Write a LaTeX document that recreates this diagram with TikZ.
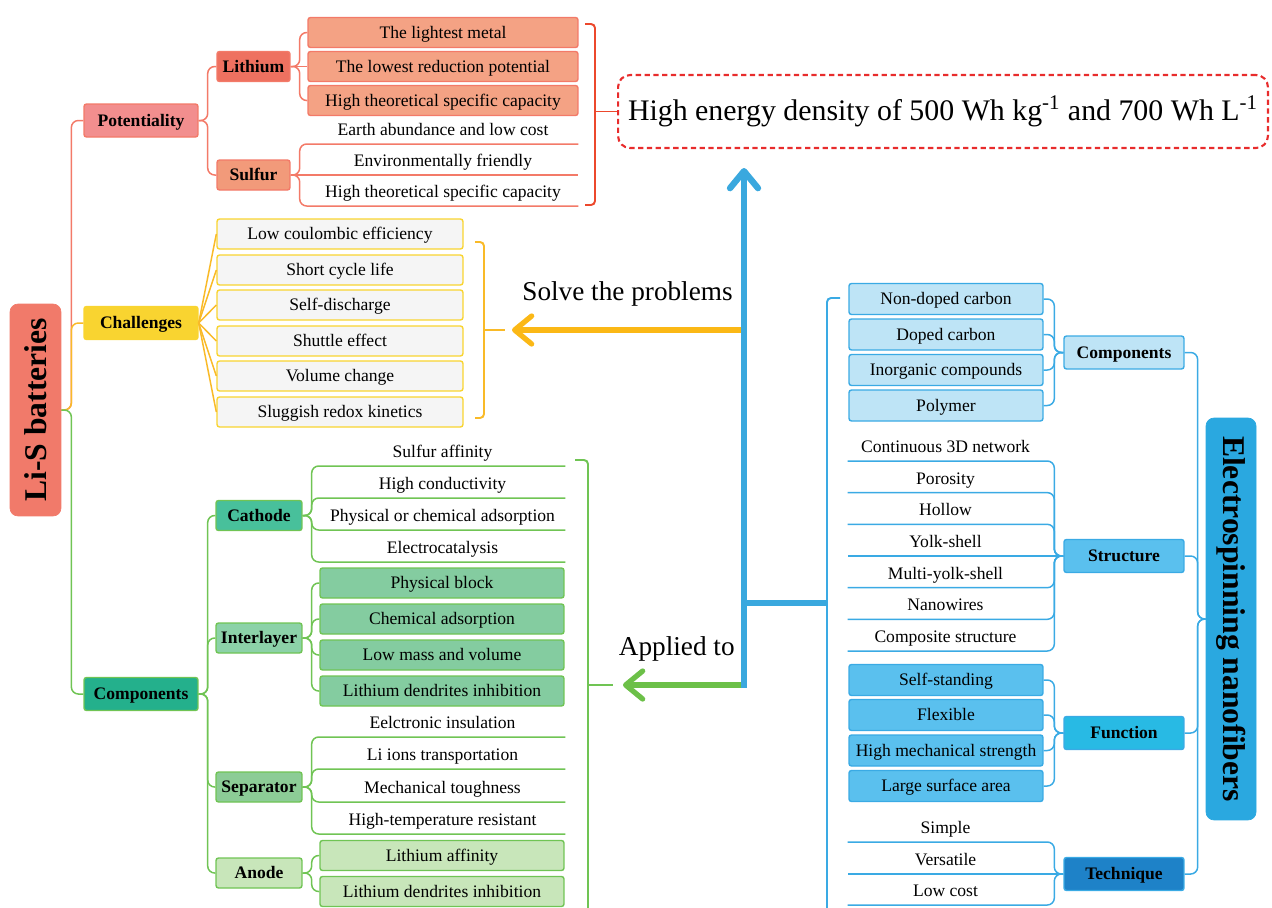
\documentclass[tikz,border=0pt]{standalone}
\usepackage{fontspec}
\setmainfont{Liberation Serif}
\usetikzlibrary{positioning, calc, arrows.meta}

% red branch
\definecolor{lisc}{RGB}{241,122,106}
\definecolor{potc}{RGB}{242,142,142}
\definecolor{lithc}{RGB}{238,113,96}
\definecolor{sulfc}{RGB}{242,154,122}
\definecolor{lileaf}{RGB}{244,162,132}
\definecolor{redln}{RGB}{243,122,104}
\definecolor{redbr}{RGB}{236,72,44}
\definecolor{reddash}{RGB}{232,44,44}
% yellow branch
\definecolor{chac}{RGB}{249,212,48}
\definecolor{yelln}{RGB}{249,186,40}
\definecolor{chaleaf}{RGB}{245,245,245}
\definecolor{orarr}{RGB}{251,184,22}
% green branch
\definecolor{compc}{RGB}{36,176,140}
\definecolor{cathc}{RGB}{72,192,155}
\definecolor{intc}{RGB}{140,210,168}
\definecolor{sepc}{RGB}{140,204,150}
\definecolor{anoc}{RGB}{200,230,186}
\definecolor{intleaf}{RGB}{132,204,160}
\definecolor{grnln}{RGB}{112,196,84}
\definecolor{grnarr}{RGB}{108,192,72}
% blue side
\definecolor{esnc}{RGB}{42,168,224}
\definecolor{rcompc}{RGB}{190,228,246}
\definecolor{struc}{RGB}{90,192,238}
\definecolor{funcc}{RGB}{40,186,228}
\definecolor{techc}{RGB}{30,130,200}
\definecolor{bluln}{RGB}{58,170,228}
\definecolor{bluarr}{RGB}{58,168,222}

\begin{document}
\begin{tikzpicture}[
    x=0.02cm, y=-0.02cm,
    font=\fontsize{10}{12}\selectfont,
    root/.style={
      draw=#1, fill=#1, rounded corners=0.16cm, inner sep=0pt,
      font=\fontsize{18}{20}\selectfont\bfseries
    },
    topic/.style={
      draw, rounded corners=0.05cm, line width=0.8pt, inner sep=0pt,
      minimum width=2.28cm, minimum height=0.66cm, text height=0.9em, text depth=0.24em,
      font=\fontsize{10}{12}\selectfont\bfseries
    },
    sub/.style={topic, minimum width=1.72cm, minimum height=0.6cm},
    leaf/.style={
      draw, rounded corners=0.05cm, line width=0.8pt, inner sep=0pt,
      minimum height=0.6cm, text height=0.9em, text depth=0.24em
    },
    item/.style={inner sep=0pt, minimum height=0.56cm, text height=0.9em, text depth=0.24em, anchor=south},
    lnk/.style={line width=0.85pt, rounded corners=0.14cm},
    brace/.style={line width=1.1pt, rounded corners=0.08cm},
    flow/.style={-{Straight Barb[round, length=0.34cm, width=0.56cm]}},
    arrtext/.style={inner sep=0pt, font=\fontsize{15.5}{18}\selectfont},
  ]
  \useasboundingbox (0,0) rectangle (1272,907);

  % Li-S batteries with its branches
  \node [root=lisc, rotate=90, minimum width=4.24cm, minimum height=1.02cm] (lis) at (35.5,410) {Li-S batteries};
  \node [topic, draw=redln, fill=potc] (pot) at (141,120.5) {Potentiality};
  \node [topic, draw=chac, fill=chac] (cha) at (141,323) {Challenges};
  \node [topic, draw=grnln, fill=compc] (lcomp) at (141,694) {Components};

  % Potentiality
  \node [sub, minimum width=1.46cm, draw=redln, fill=lithc] (lith) at (253.5,66.5) {Lithium};
  \node [sub, minimum width=1.46cm, draw=redln, fill=sulfc] (sulf) at (253.5,175) {Sulfur};
  \node [leaf, minimum width=5.4cm, draw=redln, fill=lileaf] (li1) at (443,32.5) {The lightest metal};
  \node [leaf, minimum width=5.4cm, draw=redln, fill=lileaf] (li2) at (443,66.5) {The lowest reduction potential};
  \node [leaf, minimum width=5.4cm, draw=redln, fill=lileaf] (li3) at (443,100.5) {High theoretical specific capacity};
  \node [item, minimum width=5.4cm] (su1) at (443,144) {Earth abundance and low cost};
  \node [item, minimum width=5.4cm] (su2) at (443,175) {Environmentally friendly};
  \node [item, minimum width=5.4cm] (su3) at (443,206) {High theoretical specific capacity};

  % Challenges
  \node [leaf, minimum width=4.92cm, draw=chac, fill=chaleaf] (ch1) at (340,234) {Low coulombic efficiency};
  \node [leaf, minimum width=4.92cm, draw=chac, fill=chaleaf] (ch2) at (340,270) {Short cycle life};
  \node [leaf, minimum width=4.92cm, draw=chac, fill=chaleaf] (ch3) at (340,305) {Self-discharge};
  \node [leaf, minimum width=4.92cm, draw=chac, fill=chaleaf] (ch4) at (340,341) {Shuttle effect};
  \node [leaf, minimum width=4.92cm, draw=chac, fill=chaleaf] (ch5) at (340,376) {Volume change};
  \node [leaf, minimum width=4.92cm, draw=chac, fill=chaleaf] (ch6) at (340,412) {Sluggish redox kinetics};

  % Components of the cell
  \node [sub, draw=grnln, fill=cathc] (cath) at (259,515.5) {Cathode};
  \node [sub, draw=grnln, fill=intc] (intl) at (259,638) {Interlayer};
  \node [sub, draw=grnln, fill=sepc] (sepa) at (259,787) {Separator};
  \node [sub, draw=grnln, fill=anoc] (anod) at (259,873) {Anode};
  \node [item, minimum width=4.9cm] (ca1) at (442.5,466) {Sulfur affinity};
  \node [item, minimum width=4.9cm] (ca2) at (442.5,498) {High conductivity};
  \node [item, minimum width=4.9cm] (ca3) at (442.5,530) {Physical or chemical adsorption};
  \node [item, minimum width=4.9cm] (ca4) at (442.5,562) {Electrocatalysis};
  \node [leaf, minimum width=4.88cm, draw=grnln, fill=intleaf] (in1) at (442,583) {Physical block};
  \node [leaf, minimum width=4.88cm, draw=grnln, fill=intleaf] (in2) at (442,619) {Chemical adsorption};
  \node [leaf, minimum width=4.88cm, draw=grnln, fill=intleaf] (in3) at (442,655) {Low mass and volume};
  \node [leaf, minimum width=4.88cm, draw=grnln, fill=intleaf] (in4) at (442,691) {Lithium dendrites inhibition};
  \node [item, minimum width=4.9cm] (se1) at (442.5,737) {Eelctronic insulation};
  \node [item, minimum width=4.9cm] (se2) at (442.5,769) {Li ions transportation};
  \node [item, minimum width=4.9cm] (se3) at (442.5,802) {Mechanical toughness};
  \node [item, minimum width=4.9cm] (se4) at (442.5,834) {High-temperature resistant};
  \node [leaf, minimum width=4.88cm, draw=grnln, fill=anoc] (an1) at (442,855.5) {Lithium affinity};
  \node [leaf, minimum width=4.88cm, draw=grnln, fill=anoc] (an2) at (442,891.5) {Lithium dendrites inhibition};

  % Electrospinning nanofibers with its branches
  \node [root=esnc, rotate=-90, minimum width=8.04cm, minimum height=1.0cm] (esn) at (1231,619) {Electrospinning nanofibers};
  \node [topic, minimum width=2.4cm, draw=bluln, fill=rcompc] (rcomp) at (1124,352.5) {Components};
  \node [topic, minimum width=2.4cm, draw=bluln, fill=struc] (stru) at (1124,556) {Structure};
  \node [topic, minimum width=2.4cm, draw=bluln, fill=funcc] (func) at (1124,733) {Function};
  \node [topic, minimum width=2.4cm, draw=bluln, fill=techc] (tech) at (1124,874) {Technique};

  \node [leaf, minimum width=3.88cm, minimum height=0.62cm, draw=bluln, fill=rcompc] (rc1) at (946,299) {Non-doped carbon};
  \node [leaf, minimum width=3.88cm, minimum height=0.62cm, draw=bluln, fill=rcompc] (rc2) at (946,334.5) {Doped carbon};
  \node [leaf, minimum width=3.88cm, minimum height=0.62cm, draw=bluln, fill=rcompc] (rc3) at (946,370) {Inorganic compounds};
  \node [leaf, minimum width=3.88cm, minimum height=0.62cm, draw=bluln, fill=rcompc] (rc4) at (946,405.5) {Polymer};
  \node [item, minimum width=3.9cm] (st1) at (945.5,461) {Continuous 3D network};
  \node [item, minimum width=3.9cm] (st2) at (945.5,492.6) {Porosity};
  \node [item, minimum width=3.9cm] (st3) at (945.5,524.3) {Hollow};
  \node [item, minimum width=3.9cm] (st4) at (945.5,556) {Yolk-shell};
  \node [item, minimum width=3.9cm] (st5) at (945.5,587.7) {Multi-yolk-shell};
  \node [item, minimum width=3.9cm] (st6) at (945.5,619.3) {Nanowires};
  \node [item, minimum width=3.9cm] (st7) at (945.5,651) {Composite structure};
  \node [leaf, minimum width=3.88cm, minimum height=0.62cm, draw=bluln, fill=struc] (fu1) at (946,680) {Self-standing};
  \node [leaf, minimum width=3.88cm, minimum height=0.62cm, draw=bluln, fill=struc] (fu2) at (946,715) {Flexible};
  \node [leaf, minimum width=3.88cm, minimum height=0.62cm, draw=bluln, fill=struc] (fu3) at (946,750.5) {High mechanical strength};
  \node [leaf, minimum width=3.88cm, minimum height=0.62cm, draw=bluln, fill=struc] (fu4) at (946,786) {Large surface area};
  \node [item, minimum width=3.9cm] (te1) at (945.5,842) {Simple};
  \node [item, minimum width=3.9cm] (te2) at (945.5,874) {Versatile};
  \node [item, minimum width=3.9cm] (te3) at (945.5,905) {Low cost};

  % target
  \node [draw=reddash, dash pattern=on 3pt off 2pt, line width=1.2pt, rounded corners=0.24cm,
    minimum width=13cm, minimum height=1.46cm, inner sep=0pt, font=\fontsize{17}{20}\selectfont]
    (hed) at (943,111.5) {High energy density of 500 Wh kg\textsuperscript{-1} and 700 Wh L\textsuperscript{-1}};

  % left links
  \draw [lnk, redln] (lis.south) -- ++(10,0) |- (pot.west);
  \draw [lnk, yelln] (lis.south) -- ++(10,0) |- (cha.west);
  \draw [lnk, grnln] (lis.south) -- ++(10,0) |- (lcomp.west);
  \foreach \n in {lith,sulf} \draw [lnk, redln] (pot.east) -- ++(9,0) |- (\n.west);
  \foreach \n in {li1,li3} \draw [lnk, redln] (lith.east) -- ++(9,0) |- (\n.west);
  \draw [lnk, redln] (lith.east) -- (li2.west);
  \foreach \n in {su1,su3} \draw [lnk, redln] (sulf.east) -- ++(9,0) |- (\n.south east);
  \draw [lnk, redln] (sulf.east) -- (su2.south east);
  \foreach \n in {ch1,ch2,ch3,ch4,ch5,ch6} \draw [lnk, yelln] (cha.east) -- (\n.west);
  \foreach \n in {cath,intl,sepa,anod} \draw [lnk, grnln] (lcomp.east) -- ++(9,0) |- (\n.west);
  \foreach \n in {ca1,ca2,ca3,ca4} \draw [lnk, grnln] (cath.east) -- ++(9,0) |- (\n.south east);
  \foreach \n in {in1,in2,in3,in4} \draw [lnk, grnln] (intl.east) -- ++(9,0) |- (\n.west);
  \foreach \n in {se1,se2,se3,se4} \draw [lnk, grnln] (sepa.east) -- ++(9,0) |- (\n.south east);
  \foreach \n in {an1,an2} \draw [lnk, grnln] (anod.east) -- ++(9,0) |- (\n.west);

  % right links
  \foreach \n in {rcomp,stru,func,tech} \draw [lnk, bluln] (esn.south) -- ++(-8,0) |- (\n.east);
  \foreach \n in {rc1,rc2,rc3,rc4} \draw [lnk, bluln] (rcomp.west) -- ++(-9,0) |- (\n.east);
  \foreach \n in {st1,st2,st3,st5,st6,st7} \draw [lnk, bluln] (stru.west) -- ++(-9,0) |- (\n.south west);
  \draw [lnk, bluln] (stru.west) -- (st4.south west);
  \foreach \n in {fu1,fu2,fu3,fu4} \draw [lnk, bluln] (func.west) -- ++(-9,0) |- (\n.east);
  \foreach \n in {te1,te3} \draw [lnk, bluln] (tech.west) -- ++(-9,0) |- (\n.south west);
  \draw [lnk, bluln] (tech.west) -- (te2.south west);

  % brackets
  \coordinate (rtick) at (595,111.5);
  \coordinate (otick) at (484,330);
  \coordinate (gtick) at (588,685);
  \coordinate (btick) at (827,603);
  \draw [brace, redbr] (585,24) -- (595,24) -- (595,205) -- (585,205);
  \draw [brace, redbr] (rtick) -- (hed.west);
  \draw [brace, yelln] (475,242) -- (484,242) -- (484,418) -- (475,418);
  \draw [brace, yelln] (otick) -- ++(21,0);
  \draw [brace, grnln] (575,460) -- (588,460) -- (588,910);
  \draw [brace, grnln] (gtick) -- ++(25,0);
  \draw [brace, bluln] (840,298) -- (827,298) -- (827,910);

  % flow arrows
  \coordinate (bbot) at (744,688);
  \coordinate (btip) at (744,168);
  \coordinate (bsol) at (744,330);
  \coordinate (bapp) at (744,685);
  \coordinate (bfork) at (744,603);
  \coordinate (oend) at (512,330);
  \coordinate (gend) at (623,685);
  \draw [flow, line width=3pt, orarr] (bsol) -- (oend);
  \draw [flow, line width=3pt, grnarr] (bapp) -- (gend);
  \draw [line width=3pt, bluarr] (bfork) -- (btick);
  \draw [flow, line width=3.6pt, bluarr] (bbot) -- (btip);
  \node [arrtext, above left=0.46cm and 0.22cm of bsol] (solve) {Solve the problems};
  \node [arrtext, above left=0.46cm and 0.18cm of bapp] (appl) {Applied to};

\end{tikzpicture}
\end{document}
